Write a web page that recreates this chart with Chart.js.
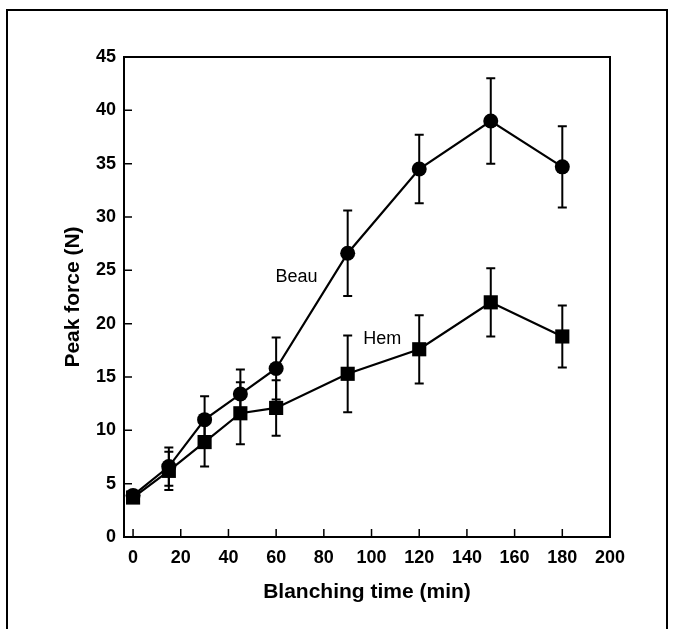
<!DOCTYPE html>
<html>
<head>
<meta charset="utf-8">
<script src="https://cdn.jsdelivr.net/npm/chart.js@4.4.0/dist/chart.umd.min.js"></script>
<style>
  html, body { margin: 0; padding: 0; background: #fff; }
  #wrap { width: 677px; height: 629px; position: relative; }
</style>
</head>
<body>
<div id="wrap"><canvas id="forceChart"></canvas></div>
<script>
// blanching time (min)
var times = [0, 15, 30, 45, 60, 90, 120, 150, 180];
// peak force (N), mean and +/- error
var beau = [3.9, 6.6, 11.0, 13.4, 15.8, 26.6, 34.5, 39.0, 34.7];
var beauErr = [0, 1.8, 2.2, 2.3, 2.9, 4.0, 3.2, 4.0, 3.8];
var hem = [3.7, 6.2, 8.9, 11.6, 12.1, 15.3, 17.6, 22.0, 18.8];
var hemErr = [0, 1.8, 2.3, 2.9, 2.6, 3.6, 3.2, 3.2, 2.9];
var xTicks = [0, 20, 40, 60, 80, 100, 120, 140, 160, 180, 200];
var yTicks = [0, 5, 10, 15, 20, 25, 30, 35, 40, 45];
// series names written next to the lines (data coords)
var seriesNames = ['Beau', 'Hem'];
var namePos = [[68.5, 24.4], [104.5, 18.6]];

function pts(ys) {
  return times.map(function(t, i) { return {x: t, y: ys[i]}; });
}

var errorBars = {
  id: 'errorBars',
  beforeDatasetsDraw: function(chart) {
    var ctx = chart.ctx;
    var xs = chart.scales.x, ys = chart.scales.y;
    var sets = [[beau, beauErr], [hem, hemErr]];
    ctx.save();
    ctx.strokeStyle = '#000';
    ctx.lineWidth = 2;
    sets.forEach(function(s) {
      times.forEach(function(t, i) {
        if (!s[1][i]) return;
        var px = xs.getPixelForValue(t);
        var top = ys.getPixelForValue(s[0][i] + s[1][i]);
        var bot = ys.getPixelForValue(s[0][i] - s[1][i]);
        ctx.beginPath();
        ctx.moveTo(px, top); ctx.lineTo(px, bot);
        ctx.moveTo(px - 4.5, top); ctx.lineTo(px + 4.5, top);
        ctx.moveTo(px - 4.5, bot); ctx.lineTo(px + 4.5, bot);
        ctx.stroke();
      });
    });
    ctx.restore();
  },
  afterDraw: function(chart) {
    var ctx = chart.ctx;
    var a = chart.chartArea;
    var xs = chart.scales.x, ys = chart.scales.y;
    ctx.save();
    ctx.strokeStyle = '#000';
    // outer figure frame
    ctx.lineWidth = 2;
    ctx.strokeRect(7, 10, 660, 660);
    // plot frame
    ctx.strokeRect(a.left, a.top, a.right - a.left, a.bottom - a.top);
    // inward ticks
    ctx.lineWidth = 1.5;
    ctx.beginPath();
    xTicks.forEach(function(v) {
      var px = xs.getPixelForValue(v);
      ctx.moveTo(px, a.bottom); ctx.lineTo(px, a.bottom - 8);
    });
    yTicks.forEach(function(v) {
      var py = ys.getPixelForValue(v);
      ctx.moveTo(a.left, py); ctx.lineTo(a.left + 8, py);
    });
    ctx.stroke();
    // series names
    ctx.fillStyle = '#000';
    ctx.font = '18px "Liberation Sans", Arial, sans-serif';
    ctx.textAlign = 'center';
    ctx.textBaseline = 'middle';
    seriesNames.forEach(function(n, i) {
      ctx.fillText(n, xs.getPixelForValue(namePos[i][0]), ys.getPixelForValue(namePos[i][1]));
    });
    ctx.restore();
  }
};

var ctx = document.getElementById('forceChart').getContext('2d');
new Chart(ctx, {
  type: 'line',
  data: {
    datasets: [
      {
        label: 'Beau',
        data: pts(beau),
        borderColor: '#000',
        backgroundColor: '#000',
        borderWidth: 2.2,
        pointStyle: 'circle',
        pointRadius: 7.5,
        pointBorderWidth: 0,
        tension: 0
      },
      {
        label: 'Hem',
        data: pts(hem),
        borderColor: '#000',
        backgroundColor: '#000',
        borderWidth: 2.2,
        pointStyle: 'rect',
        pointRadius: 10,
        pointBorderWidth: 0,
        tension: 0
      }
    ]
  },
  options: {
    responsive: true,
    maintainAspectRatio: false,
    animation: false,
    layout: { padding: { top: 57, right: 67, left: 0, bottom: 0 } },
    plugins: { legend: { display: false }, tooltip: { enabled: false } },
    scales: {
      x: {
        type: 'linear',
        min: -3.8,
        max: 200,
        afterBuildTicks: function(s) { s.ticks = xTicks.map(function(v) { return {value: v}; }); },
        afterFit: function(s) { s.height = 92; },
        grid: { display: false, drawTicks: false },
        border: { display: false },
        ticks: {
          padding: 10,
          color: '#000',
          maxRotation: 0,
          autoSkip: false,
          font: { family: '"Liberation Sans", Arial, sans-serif', size: 18, weight: 'bold' }
        },
        title: {
          display: true,
          text: 'Blanching time (min)',
          color: '#000',
          padding: { top: 0, bottom: 24 },
          font: { family: '"Liberation Sans", Arial, sans-serif', size: 21, weight: 'bold' }
        }
      },
      y: {
        min: 0,
        max: 45,
        afterBuildTicks: function(s) { s.ticks = yTicks.map(function(v) { return {value: v}; }); },
        afterFit: function(s) { s.width = 124; },
        grid: { display: false, drawTicks: false },
        border: { display: false },
        ticks: {
          padding: 8,
          color: '#000',
          autoSkip: false,
          font: { family: '"Liberation Sans", Arial, sans-serif', size: 18, weight: 'bold' }
        },
        title: {
          display: true,
          text: 'Peak force (N)',
          color: '#000',
          padding: { top: 61, bottom: 0 },
          font: { family: '"Liberation Sans", Arial, sans-serif', size: 21, weight: 'bold' }
        }
      }
    }
  },
  plugins: [errorBars]
});
</script>
</body>
</html>
